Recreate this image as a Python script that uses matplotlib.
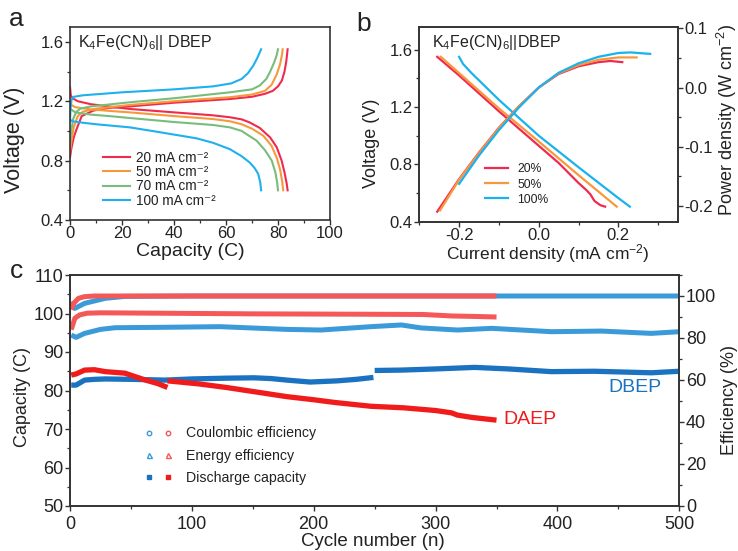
import matplotlib
matplotlib.use('Agg')
import matplotlib.pyplot as plt
from matplotlib.lines import Line2D
from matplotlib.legend_handler import HandlerTuple
from matplotlib.ticker import MultipleLocator

plt.rcParams['font.family'] = ['Liberation Sans', 'DejaVu Sans']
plt.rcParams['mathtext.fontset'] = 'custom'
plt.rcParams['mathtext.rm'] = 'Liberation Sans'
plt.rcParams['mathtext.it'] = 'Liberation Sans:italic'
plt.rcParams['mathtext.bf'] = 'Liberation Sans:bold'
TXT = '#222222'
plt.rcParams['text.color'] = TXT
plt.rcParams['axes.edgecolor'] = '#333333'
plt.rcParams['xtick.color'] = '#333333'
plt.rcParams['ytick.color'] = '#333333'
plt.rcParams['xtick.labelcolor'] = TXT
plt.rcParams['ytick.labelcolor'] = TXT

# ---------------- Panel a data ----------------
a_labels = ['20 mA cm\u207b\u00b2', '50 mA cm\u207b\u00b2', '70 mA cm\u207b\u00b2', '100 mA cm\u207b\u00b2']
a_colors = ['#f02a4e', '#f8983c', '#78bd7c', '#1fb0ee']

chg20_cap = [0, 0.5, 1.5, 2.6, 4.5, 9, 15, 23, 40, 61.5, 70, 75, 78, 80, 81.5, 82.5, 83.2, 83.7]
chg20_v = [0.82, 0.88, 0.96, 1.015, 1.10, 1.137, 1.155, 1.165, 1.19, 1.215, 1.23, 1.25, 1.27, 1.30, 1.34, 1.40, 1.47, 1.55]
chg50_cap = [0, 0.7, 1.5, 3, 5, 10, 23, 40, 61.5, 70, 75, 77.5, 79.5, 80.8, 81.5, 81.8]
chg50_v = [0.86, 0.95, 1.03, 1.10, 1.13, 1.15, 1.175, 1.20, 1.227, 1.245, 1.27, 1.31, 1.38, 1.45, 1.51, 1.55]
chg70_cap = [0, 0.5, 1.2, 2.5, 4, 8, 23, 40, 61.5, 70, 73, 75.5, 77, 78.5, 79.5, 80]
chg70_v = [0.92, 1.0, 1.08, 1.13, 1.15, 1.165, 1.193, 1.22, 1.26, 1.28, 1.306, 1.35, 1.40, 1.46, 1.51, 1.55]
chg100_cap = [0, 0.2, 0.6, 1.5, 5, 20, 40, 55, 62, 66, 68.5, 70.5, 72, 73, 73.5]
chg100_v = [1.07, 1.15, 1.21, 1.23, 1.24, 1.26, 1.28, 1.30, 1.32, 1.35, 1.39, 1.44, 1.49, 1.53, 1.55]

dis20_cap = [0, 0.3, 1, 3, 8, 15, 23, 40, 55, 61.5, 66, 69, 73, 77, 79.5, 81.4, 82.5, 83.3, 83.7]
dis20_v = [1.30, 1.24, 1.22, 1.20, 1.18, 1.165, 1.148, 1.125, 1.105, 1.092, 1.078, 1.058, 1.02, 0.956, 0.89, 0.80, 0.72, 0.65, 0.60]
dis50_cap = [0, 2, 8, 15, 23, 40, 55, 61.5, 66, 70, 74.4, 77.5, 79.5, 80.8, 81.6, 82]
dis50_v = [1.18, 1.16, 1.145, 1.135, 1.125, 1.10, 1.08, 1.065, 1.045, 1.015, 0.967, 0.90, 0.82, 0.74, 0.66, 0.60]
dis70_cap = [0, 2, 8, 15, 23, 40, 55, 61.5, 66, 71.8, 75, 77.6, 79, 79.7, 80]
dis70_v = [1.15, 1.125, 1.11, 1.10, 1.087, 1.06, 1.04, 1.024, 1.0, 0.934, 0.87, 0.80, 0.72, 0.65, 0.60]
dis100_cap = [0, 1, 5, 10, 23, 35, 48.7, 55, 61.5, 66, 69.2, 71, 72.4, 73.2, 73.5]
dis100_v = [1.075, 1.065, 1.055, 1.045, 1.024, 0.99, 0.95, 0.92, 0.877, 0.83, 0.786, 0.75, 0.71, 0.65, 0.60]

# ---------------- Panel b data ----------------
b_labels = ['20%', '50%', '100%']
b_colors = ['#f02a4e', '#f8983c', '#1ab2ee']
pol20_i = [-0.255, -0.2, -0.1, 0.0, 0.05, 0.1, 0.12, 0.13, 0.14, 0.155, 0.167]
pol20_v = [1.55, 1.42, 1.17, 0.93, 0.81, 0.67, 0.62, 0.59, 0.545, 0.515, 0.505]
pol50_i = [-0.246, -0.1, 0.0, 0.1, 0.196]
pol50_v = [1.55, 1.19, 0.96, 0.725, 0.505]
pol100_i = [-0.2, -0.19, -0.17, -0.1, 0.0, 0.1, 0.2, 0.229]
pol100_v = [1.55, 1.50, 1.44, 1.25, 1.00, 0.78, 0.565, 0.505]

pow20_i = [-0.255, -0.2, -0.15, -0.1, -0.05, 0.0, 0.05, 0.1, 0.15, 0.18, 0.21]
pow20_p = [-0.21, -0.155, -0.11, -0.068, -0.032, 0.0, 0.023, 0.036, 0.043, 0.045, 0.043]
pow50_i = [-0.248, -0.2, -0.15, -0.1, -0.05, 0.0, 0.05, 0.1, 0.15, 0.2, 0.246]
pow50_p = [-0.208, -0.156, -0.111, -0.069, -0.032, 0.0, 0.024, 0.038, 0.047, 0.051, 0.051]
pow100_i = [-0.2, -0.15, -0.1, -0.05, 0.0, 0.05, 0.1, 0.15, 0.2, 0.23, 0.26, 0.28]
pow100_p = [-0.163, -0.115, -0.072, -0.034, 0.0, 0.025, 0.041, 0.052, 0.0585, 0.0595, 0.058, 0.057]

# ---------------- Panel c data ----------------
dbep_cap_cyc1 = [1, 5, 12, 20, 29, 50, 78, 100, 128, 151, 165, 178, 197, 219, 235, 249]
dbep_cap_val1 = [81.4, 81.4, 82.7, 82.9, 83.0, 82.9, 82.7, 83.0, 83.2, 83.3, 83.1, 82.7, 82.2, 82.5, 82.9, 83.4]
dbep_cap_cyc2 = [250, 272, 300, 332, 360, 395, 430, 477, 500]
dbep_cap_val2 = [85.2, 85.3, 85.6, 86.0, 85.6, 84.9, 85.0, 84.6, 85.0]
daep_cap_cyc1 = [1, 5, 12, 20, 29, 45, 62, 72, 80]
daep_cap_val1 = [84.0, 84.3, 85.3, 85.4, 84.9, 84.5, 82.7, 81.8, 80.8]
daep_cap_cyc2 = [80, 90, 106, 128, 151, 178, 200, 217, 247, 274, 300, 313, 318, 330, 350]
daep_cap_val2 = [82.5, 82.2, 81.7, 80.8, 79.7, 78.4, 77.6, 76.9, 75.9, 75.5, 74.8, 74.2, 73.6, 73.0, 72.3]

dbep_ce_cyc = [1, 4, 12, 29, 45, 100, 200, 300, 400, 500]
dbep_ce_val = [97.3, 94.1, 96.5, 98.9, 99.8, 100.0, 100.0, 100.0, 100.0, 100.0]
daep_ce_cyc = [1, 3, 7, 12, 20, 100, 200, 300, 350]
daep_ce_val = [93.5, 96.5, 98.9, 99.7, 100.0, 100.0, 100.0, 100.0, 100.0]
dbep_ee_cyc = [1, 5, 12, 25, 37, 78, 123, 178, 206, 247, 272, 288, 318, 346, 395, 436, 477, 500]
dbep_ee_val = [81.4, 80.3, 82.2, 84.1, 84.9, 85.1, 85.4, 84.1, 83.8, 85.4, 86.2, 84.8, 83.8, 84.6, 83.0, 83.3, 82.2, 83.0]
daep_ee_cyc = [1, 4, 8, 14, 25, 50, 100, 150, 200, 250, 290, 313, 330, 350]
daep_ee_val = [84.0, 89.4, 91.0, 91.8, 92.0, 91.9, 91.7, 91.5, 91.4, 91.3, 91.2, 90.5, 90.3, 90.0]

W, H = 738, 551
fig = plt.figure(figsize=(W / 100, H / 100), dpi=100)


def box(l, t, r, b):
    return [l / W, 1 - b / H, (r - l) / W, (b - t) / H]


def style(ax, size):
    for s in ax.spines.values():
        s.set_linewidth(1.2)
    ax.tick_params(which='major', direction='out', length=3.5, width=1.0, labelsize=size, pad=1.2)
    ax.tick_params(which='minor', direction='out', length=2.2, width=0.9)


# ---------- Panel a ----------
axa = fig.add_axes(box(70, 27, 330, 220))
chg = [(chg20_cap, chg20_v), (chg50_cap, chg50_v), (chg70_cap, chg70_v), (chg100_cap, chg100_v)]
dis = [(dis20_cap, dis20_v), (dis50_cap, dis50_v), (dis70_cap, dis70_v), (dis100_cap, dis100_v)]
for (cx, cy), (dx, dy), c, lab in zip(chg, dis, a_colors, a_labels):
    axa.plot(cx, cy, color=c, lw=1.5, label=lab)
    axa.plot(dx, dy, color=c, lw=1.5)
axa.set_xlim(0, 100)
axa.set_ylim(0.4, 1.7)
axa.xaxis.set_major_locator(MultipleLocator(20))
axa.xaxis.set_minor_locator(MultipleLocator(10))
axa.set_yticks([0.4, 0.8, 1.2, 1.6])
axa.yaxis.set_minor_locator(MultipleLocator(0.2))
style(axa, 12)
axa.tick_params(axis='x', which='major', pad=0.8)
axa.text((78 - 70) / 260, (220 - 42) / 193, 'K$_4$Fe(CN)$_6$|| DBEP', transform=axa.transAxes,
         fontsize=11.5, ha='left', va='center')
axa.legend(loc='upper left', bbox_to_anchor=((103 - 70) / 260, (220 - 150.5) / 193), frameon=False,
           fontsize=9.8, handlelength=2.0, handletextpad=0.45, labelspacing=0.03,
           borderpad=0, borderaxespad=0)

# ---------- Panel b ----------
axb = fig.add_axes(box(419.3, 26.7, 678, 221.7))
axb2 = axb.twinx()
pols = [(pol20_i, pol20_v), (pol50_i, pol50_v), (pol100_i, pol100_v)]
pows = [(pow20_i, pow20_p), (pow50_i, pow50_p), (pow100_i, pow100_p)]
for (px_, py_), (wx, wy), c, lab in zip(pols, pows, b_colors, b_labels):
    axb.plot(px_, py_, color=c, lw=1.6, label=lab)
    axb2.plot(wx, wy, color=c, lw=1.6)
axb.set_xlim(-0.3, 0.35)
axb.set_ylim(0.4, 1.76)
axb2.set_ylim(-0.227, 0.103)
axb.set_xticks([-0.2, 0.0, 0.2])
axb.set_xticklabels(['-0.2', '0.0', '0.2'])
axb.xaxis.set_minor_locator(MultipleLocator(0.1))
axb.set_yticks([0.4, 0.8, 1.2, 1.6])
axb.yaxis.set_minor_locator(MultipleLocator(0.2))
axb2.set_yticks([-0.2, -0.1, 0.0, 0.1])
axb2.set_yticklabels(['-0.2', '-0.1', '0.0', '0.1'])
axb2.yaxis.set_minor_locator(MultipleLocator(0.05))
style(axb, 12)
style(axb2, 12)
axb.tick_params(axis='x', which='major', pad=0.8)
axb.text((431.7 - 419.3) / 258.7, (221.7 - 42) / 195, 'K$_4$Fe(CN)$_6$||DBEP', transform=axb.transAxes,
         fontsize=11.5, ha='left', va='center')
axb.legend(loc='upper left', bbox_to_anchor=((485 - 419.3) / 258.7, (221.7 - 163.5) / 195), frameon=False,
           fontsize=8.7, handlelength=1.9, handletextpad=0.75, labelspacing=0.25,
           borderpad=0, borderaxespad=0)

# ---------- Panel c ----------
axc = fig.add_axes(box(70, 275, 679.3, 506))
axc2 = axc.twinx()
BLUE_CAP = '#1a72c0'
BLUE_EFF = '#3b9bd8'
RED_CAP = '#f01c1c'
RED_EFF = '#f45858'
axc2.plot(dbep_ce_cyc, dbep_ce_val, color=BLUE_EFF, lw=3.6, solid_capstyle='butt')
axc2.plot(dbep_ee_cyc, dbep_ee_val, color=BLUE_EFF, lw=3.6, solid_capstyle='butt')
axc2.plot(daep_ce_cyc, daep_ce_val, color=RED_EFF, lw=3.6, solid_capstyle='butt')
axc2.plot(daep_ee_cyc, daep_ee_val, color=RED_EFF, lw=3.6, solid_capstyle='butt')
axc.plot(dbep_cap_cyc1, dbep_cap_val1, color=BLUE_CAP, lw=3.8, solid_capstyle='butt')
axc.plot(dbep_cap_cyc2, dbep_cap_val2, color=BLUE_CAP, lw=3.8, solid_capstyle='butt')
axc.plot(daep_cap_cyc1, daep_cap_val1, color=RED_CAP, lw=3.8, solid_capstyle='butt')
axc.plot(daep_cap_cyc2, daep_cap_val2, color=RED_CAP, lw=3.8, solid_capstyle='butt')
axc.set_zorder(axc2.get_zorder() + 1)
axc.patch.set_visible(False)
axc.set_xlim(0, 500)
axc.set_ylim(50, 110)
axc2.set_ylim(0, 110)
axc.xaxis.set_major_locator(MultipleLocator(100))
axc.xaxis.set_minor_locator(MultipleLocator(50))
axc.yaxis.set_major_locator(MultipleLocator(10))
axc.yaxis.set_minor_locator(MultipleLocator(5))
axc2.set_yticks([0, 20, 40, 60, 80, 100])
axc2.yaxis.set_minor_locator(MultipleLocator(10))
style(axc, 13)
style(axc2, 13)
axc.tick_params(axis='x', which='major', pad=4.0)
axc.text((635 - 70) / 609.3, (506 - 387) / 231, 'DBEP', transform=axc.transAxes, color=BLUE_CAP,
         fontsize=14, ha='center', va='center')
axc.text((530 - 70) / 609.3, (506 - 420) / 231, 'DAEP', transform=axc.transAxes, color=RED_CAP,
         fontsize=14, ha='center', va='center')

hb1 = Line2D([], [], ls='none', marker='o', ms=3.2, mfc='white', mec=BLUE_EFF, mew=1.0)
hr1 = Line2D([], [], ls='none', marker='o', ms=3.2, mfc='white', mec=RED_EFF, mew=1.0)
hb2 = Line2D([], [], ls='none', marker='^', ms=3.6, mfc='white', mec=BLUE_EFF, mew=1.0)
hr2 = Line2D([], [], ls='none', marker='^', ms=3.6, mfc='white', mec=RED_EFF, mew=1.0)
hb3 = Line2D([], [], ls='none', marker='s', ms=3.0, mfc=BLUE_CAP, mec=BLUE_CAP)
hr3 = Line2D([], [], ls='none', marker='s', ms=3.0, mfc=RED_CAP, mec=RED_CAP)
axc.legend(handles=[(hb1, hr1), (hb2, hr2), (hb3, hr3)],
           labels=['Coulombic efficiency', 'Energy efficiency', 'Discharge capacity'],
           handler_map={tuple: HandlerTuple(ndivide=None, pad=0.5)}, numpoints=1,
           loc='upper left', bbox_to_anchor=((143.25 - 70) / 609.3, (506 - 426.5) / 231), frameon=False,
           fontsize=10.2, handlelength=2.12, handletextpad=0.92, labelspacing=0.58,
           borderpad=0, borderaxespad=0)

# ---------- axis labels (figure text) ----------
def ft(x, y, s, size, rot=0):
    fig.text(x / W, 1 - y / H, s, fontsize=size, rotation=rot, ha='center', va='center')

ft(190, 252, 'Capacity (C)', 14)
ft(15, 140, 'Voltage (V)', 15.5, 90)
ft(548, 254, 'Current density (mA cm$^{-2}$)', 12.5)
ft(372, 143, 'Voltage (V)', 13, 90)
ft(727, 120, 'Power density (W cm$^{-2}$)', 13, 90)
ft(23, 397, 'Capacity (C)', 13, 90)
ft(730, 400, 'Efficiency (%)', 13, 90)
ft(373, 541, 'Cycle number (n)', 13.5)

fig.text(9 / W, 1 - 25.5 / H, 'a', fontsize=19, ha='left', va='baseline')
fig.text(356 / W, 1 - 31 / H, 'b', fontsize=19, ha='left', va='baseline')
fig.text(10 / W, 1 - 277.5 / H, 'c', fontsize=19, ha='left', va='baseline')

fig.savefig('out.png', dpi=100)
